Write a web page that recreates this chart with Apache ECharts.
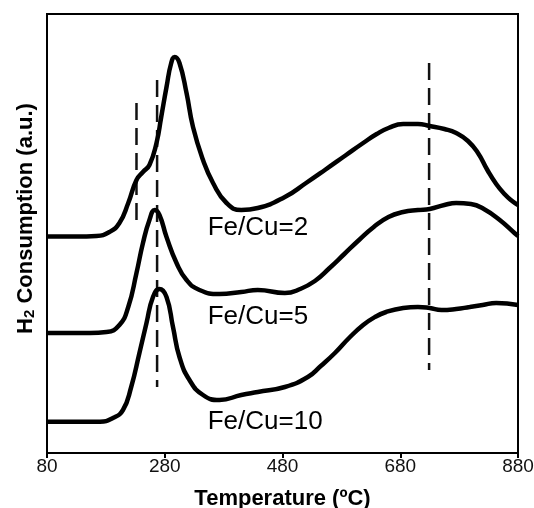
<!DOCTYPE html>
<html>
<head>
<meta charset="utf-8">
<script src="https://cdn.jsdelivr.net/npm/echarts@6/dist/echarts.min.js"></script>
<style>
  html, body { margin: 0; padding: 0; background: #fff; }
  #chart { width: 534px; height: 508px; }
</style>
</head>
<body>
<div id="chart"></div>
<script>
// temperatures (ºC) and H2 signal (a.u.)
const temp2 = [80, 130, 164, 186, 203, 218, 232, 243, 254, 266, 274, 283, 291, 297, 305, 317, 328, 345, 362, 385, 410, 438, 484, 520, 552, 588, 617, 640, 660, 685, 710, 730, 755, 775, 795, 812, 828, 843, 857, 870, 880]
const h2Fe2 = [21.65, 21.65, 21.7, 22.1, 23.0, 25.0, 27.3, 28.1, 28.8, 31.0, 33.6, 36.6, 39.0, 39.6, 39.0, 36.0, 32.6, 29.3, 27.0, 25.0, 24.3, 24.5, 25.6, 27.0, 28.3, 29.8, 31.0, 31.9, 32.5, 32.9, 32.9, 32.7, 32.4, 32.0, 31.2, 30.0, 28.3, 26.9, 25.9, 25.2, 24.8]

const temp5 = [80, 153, 181, 203, 218, 232, 243, 254, 263, 271, 283, 300, 317, 339, 373, 410, 438, 484, 510, 535, 560, 585, 610, 635, 660, 685, 710, 730, 755, 775, 800, 822, 849, 874, 880]
const h2Fe5 = [12.0, 12.0, 12.1, 12.8, 14.6, 18.0, 21.0, 23.3, 24.3, 23.8, 21.6, 19.0, 17.3, 16.3, 15.9, 16.1, 16.3, 16.0, 16.4, 17.2, 18.5, 19.9, 21.3, 22.6, 23.6, 24.1, 24.3, 24.4, 24.8, 25.0, 24.9, 24.4, 23.3, 22.0, 21.7]

const temp10 = [80, 170, 192, 209, 223, 237, 249, 260, 271, 283, 294, 305, 322, 345, 373, 410, 438, 484, 523, 545, 569, 593, 617, 637, 656, 685, 710, 730, 750, 775, 798, 820, 843, 880]
const h2Fe10 = [3.13, 3.13, 3.5, 4.3, 6.6, 10.0, 13.0, 15.6, 16.4, 15.6, 12.6, 9.6, 7.3, 5.8, 5.3, 5.8, 6.1, 6.6, 7.6, 8.7, 10.0, 11.5, 12.8, 13.6, 14.1, 14.5, 14.6, 14.5, 14.3, 14.4, 14.6, 14.8, 15.0, 14.8]

const sampleNames = ['Fe/Cu=2', 'Fe/Cu=5', 'Fe/Cu=10']
const labelTemp = 353
const labelLevel = [22.5, 13.6, 3.1]

// dashed guide lines
const dashTemp = [232, 267, 729]
const dashTop = [35.0, 37.3, 39.0]
const dashBottom = [23.3, 6.6, 8.3]

const xTicks = [80, 280, 480, 680, 880]

const chart = echarts.init(document.getElementById('chart'))

function curve(xs, ys) {
  return {
    type: 'line',
    data: xs.map((x, i) => [x, ys[i]]),
    smooth: 0.5,
    showSymbol: false,
    lineStyle: { color: '#000', width: 4.5 },
    z: 3
  }
}

const series = [curve(temp2, h2Fe2), curve(temp5, h2Fe5), curve(temp10, h2Fe10)]

dashTemp.forEach((t, i) => {
  series.push({
    type: 'line',
    data: [[t, dashTop[i]], [t, dashBottom[i]]],
    showSymbol: false,
    lineStyle: { color: '#111', width: 2.5, type: [17, 8] },
    z: 2
  })
})

series.push({
  type: 'scatter',
  symbolSize: 0,
  itemStyle: { opacity: 1 },
  data: sampleNames.map((n, i) => ({ name: n, value: [labelTemp, labelLevel[i]] })),
  label: {
    show: true,
    position: 'right',
    distance: 0,
    formatter: p => p.name,
    fontFamily: 'Liberation Sans, Arial',
    fontSize: 26,
    color: '#000',
    opacity: 1,
    textBorderWidth: 0
  },
  z: 4
})

const option = {
  backgroundColor: '#fff',
  animation: false,
  grid: {
    left: 47, right: 16, top: 14, bottom: 55,
    outerBoundsMode: 'none',
    containLabel: false,
    show: true, borderColor: '#000', borderWidth: 2
  },
  xAxis: {
    type: 'value',
    min: 80,
    max: 880,
    interval: 200,
    name: 'Temperature (ºC)',
    nameLocation: 'middle',
    nameGap: 35,
    nameTextStyle: { fontFamily: 'Liberation Sans, Arial', fontSize: 22, fontWeight: 'bold', color: '#000' },
    axisLine: { lineStyle: { color: '#000', width: 2 } },
    axisTick: { show: true, length: 5, lineStyle: { color: '#000', width: 2 } },
    axisLabel: {
      fontFamily: 'Liberation Sans, Arial', fontSize: 19, color: '#111', margin: 4,
      formatter: v => (xTicks.includes(v) ? String(v) : '')
    },
    splitLine: { show: false }
  },
  yAxis: {
    type: 'value',
    min: 0,
    max: 43.9,
    name: '{h|H}{s|2}{h| Consumption (a.u.)}',
    nameLocation: 'middle',
    nameRotate: 90,
    nameGap: 10,
    nameTextStyle: {
      padding: [0, 0, 0, 30],
      rich: {
        h: { fontFamily: 'Liberation Sans, Arial', fontSize: 22, fontWeight: 'bold', color: '#000', lineHeight: 26, verticalAlign: 'bottom' },
        s: { fontFamily: 'Liberation Sans, Arial', fontSize: 15, fontWeight: 'bold', color: '#000', lineHeight: 26, verticalAlign: 'bottom', padding: [8, 0, 0, 0] }
      }
    },
    axisLine: { show: true, lineStyle: { color: '#000', width: 2 } },
    axisTick: { show: false },
    axisLabel: { show: false },
    splitLine: { show: false }
  },
  series: series
}

chart.setOption(option)
</script>
</body>
</html>
